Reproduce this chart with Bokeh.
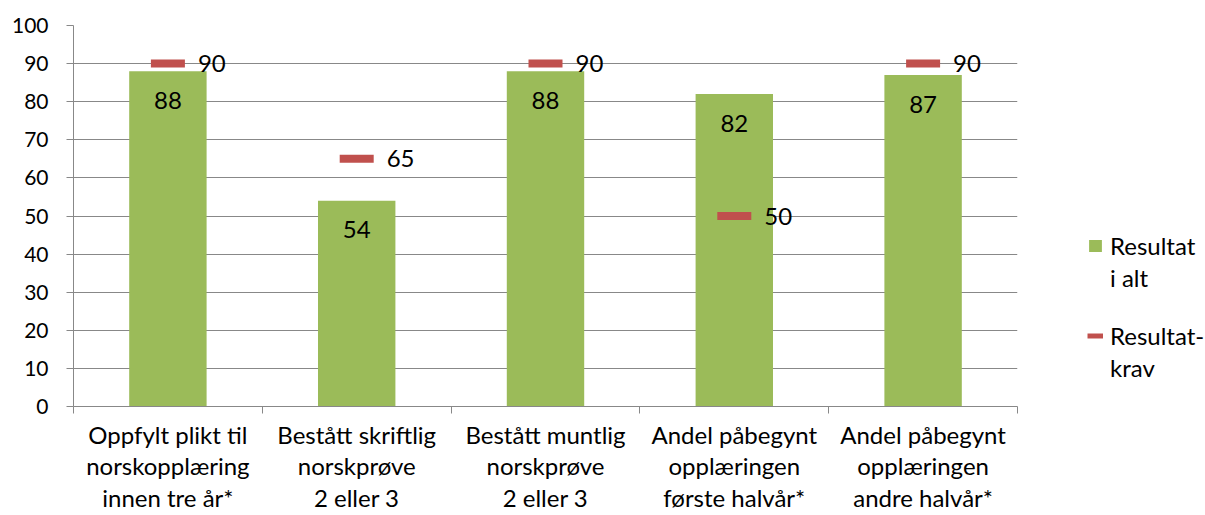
from bokeh.plotting import figure
from bokeh.models import (ColumnDataSource, FixedTicker, Range1d, Legend, LegendItem)
from bokeh.layouts import row
from bokeh.core.properties import value
from bokeh.embed import file_html
from bokeh.resources import INLINE

categories = [
    "Oppfylt plikt til\nnorskopplæring\ninnen tre år*",
    "Bestått skriftlig\nnorskprøve\n2 eller 3",
    "Bestått muntlig\nnorskprøve\n2 eller 3",
    "Andel påbegynt\nopplæringen\nførste halvår*",
    "Andel påbegynt\nopplæringen\nandre halvår*",
]
resultat = [88, 54, 88, 82, 87]
krav = [90, 65, 90, 50, 90]
y_ticks = [0, 10, 20, 30, 40, 50, 60, 70, 80, 90, 100]
legend_res = ["Resultat", "i alt"]
legend_krav = ["Resultat-", "krav"]

FONT = "Lato"
GREEN = "#9BBB59"
RED = "#C0504D"
GRID = "#888888"

xpos = [i + 0.5 for i in range(len(categories))]
src = ColumnDataSource(dict(
    x=xpos,
    res=resultat,
    krav=krav,
    res_txt=[str(v) for v in resultat],
    krav_txt=[str(v) for v in krav],
))

p = figure(width=1030, height=515, output_backend="svg", toolbar_location=None,
           x_range=Range1d(0, len(categories)), y_range=Range1d(0, 100),
           min_border_left=73, min_border_right=13, min_border_top=25,
           min_border_bottom=109)
p.outline_line_color = None
p.background_fill_color = "white"
p.border_fill_color = "white"

p.vbar(x="x", top="res", width=0.41, bottom=0, source=src,
       fill_color=GREEN, line_color=None)
p.rect(x="x", y="krav", width=34, height=8, width_units="screen",
       height_units="screen", source=src, fill_color=RED, line_color=None)

p.text(x="x", y="res", text="res_txt", source=src, y_offset=29,
       text_align="center", text_baseline="middle", text_font=value(FONT),
       text_font_size="24px", text_color="black")
p.text(x="x", y="krav", text="krav_txt", source=src, x_offset=30,
       text_align="left", text_baseline="middle", text_font=value(FONT),
       text_font_size="24px", text_color="black")

# axes
p.xgrid.visible = False
p.ygrid.grid_line_color = GRID
p.ygrid.ticker = FixedTicker(ticks=y_ticks)

p.yaxis.ticker = FixedTicker(ticks=y_ticks)
p.yaxis.axis_line_color = GRID
p.yaxis.major_tick_line_color = GRID
p.yaxis.major_tick_out = 7
p.yaxis.major_tick_in = 0
p.yaxis.minor_tick_line_color = None
p.yaxis.major_label_standoff = 18
p.yaxis.major_label_text_font = FONT
p.yaxis.major_label_text_font_size = "21px"
p.yaxis.major_label_text_color = "black"

p.xaxis.ticker = FixedTicker(ticks=xpos, minor_ticks=list(range(len(categories) + 1)))
p.xaxis.major_label_overrides = {x: c for x, c in zip(xpos, categories)}
p.xaxis.axis_line_color = GRID
p.xaxis.major_tick_line_color = None
p.xaxis.minor_tick_line_color = GRID
p.xaxis.minor_tick_out = 7
p.xaxis.minor_tick_in = 0
p.xaxis.major_label_standoff = 6
p.xaxis.major_label_text_font = FONT
p.xaxis.major_label_text_font_size = "24px"
p.xaxis.major_label_text_color = "black"
p.xaxis.major_label_text_line_height = 1.1

# legend panel: a second, axis-less figure to the right of the chart
p2 = figure(width=175, height=515, output_backend="svg", toolbar_location=None,
            x_range=Range1d(0, 1), y_range=Range1d(0, 1),
            x_axis_location=None, y_axis_location=None, min_border=0)
p2.outline_line_color = None
p2.grid.visible = False
p2.background_fill_color = "white"
p2.border_fill_color = "white"

lsrc = ColumnDataSource(dict(x=[float("nan")], y=[float("nan")]))
g_green = p2.vbar(x="x", top="y", width=0.1, source=lsrc, fill_color=GREEN, line_color=None)
g_red = p2.line(x="x", y="y", source=lsrc, line_color=RED, line_width=5)
g_none = p2.line(x="x", y="y", source=lsrc, line_alpha=0)

common = dict(glyph_width=16, glyph_height=15, label_standoff=7, label_height=29,
              spacing=3, padding=0, margin=0, border_line_alpha=0,
              background_fill_alpha=0, label_text_font=FONT,
              label_text_font_size="24px", label_text_color="black")
leg1 = Legend(items=[LegendItem(label=legend_res[0], renderers=[g_green]),
                     LegendItem(label=legend_res[1], renderers=[g_none])],
              location=(57, 114), **common)
leg2 = Legend(items=[LegendItem(label=legend_krav[0], renderers=[g_red]),
                     LegendItem(label=legend_krav[1], renderers=[g_none])],
              location=(57, 24), **common)
p2.add_layout(leg1)
p2.add_layout(leg2)

layout = row(p, p2)
open("out.html", "w").write(file_html(layout, INLINE))
